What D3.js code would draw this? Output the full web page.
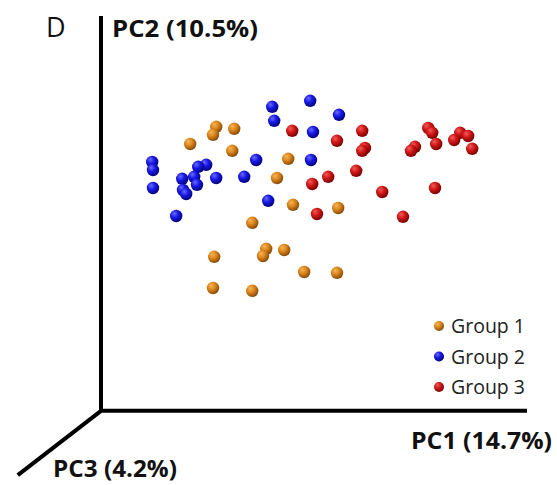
<!DOCTYPE html>
<html>
<head>
<meta charset="utf-8">
<script src="https://cdn.jsdelivr.net/npm/d3@7"></script>
<style>
  html, body { margin: 0; padding: 0; background: #fff; }
  svg { display: block; }
</style>
</head>
<body>
<div id="chart"></div>
<script>
/* scores (PC1, PC2), arbitrary units */
var groups = ["Group 1", "Group 2", "Group 3"];

var group1 = [
  [28.8, 70.8], [28.0, 68.8], [33.3, 70.3], [22.3, 66.5], [32.8, 64.8],
  [46.8, 62.8], [44.0, 58.0], [48.0, 51.3], [59.3, 50.5], [37.8, 46.8],
  [28.3, 38.3], [41.3, 40.3], [40.5, 38.5], [45.8, 40.0], [50.8, 34.5],
  [59.0, 34.3], [28.0, 30.5], [37.8, 29.8]
];

var group2 = [
  [42.8, 75.8], [52.3, 77.3], [59.5, 73.8], [43.3, 72.3], [53.0, 69.5],
  [12.8, 62.0], [13.0, 60.0], [26.3, 61.3], [24.3, 60.8], [38.8, 62.5],
  [52.5, 62.5], [23.3, 58.3], [20.3, 57.8], [24.0, 56.3], [28.8, 58.0],
  [35.8, 58.3], [13.0, 55.5], [20.5, 55.0], [21.3, 54.0], [41.8, 52.3],
  [18.8, 48.5]
];

var group3 = [
  [47.8, 69.8], [59.0, 67.3], [52.8, 56.5], [56.8, 58.3], [54.0, 49.0],
  [65.3, 69.8], [66.0, 65.5], [65.3, 64.8], [63.8, 59.8], [70.3, 54.5],
  [75.5, 48.3], [81.8, 70.5], [82.8, 69.3], [83.8, 66.5], [78.5, 65.8],
  [77.5, 64.8], [89.8, 69.3], [91.8, 68.5], [88.3, 67.5], [92.8, 65.3],
  [83.5, 55.5]
];

var axisLabels = ["PC1 (14.7%)", "PC2 (10.5%)", "PC3 (4.2%)"];
var panelLetter = "D";

var width = 557, height = 485;

var svg = d3.select("#chart").append("svg")
  .attr("width", width)
  .attr("height", height)
  .style("font-family", "'Open Sans', 'Noto Sans', sans-serif");

var x = d3.scaleLinear().domain([0, 100]).range([101, 501]);
var y = d3.scaleLinear().domain([0, 100]).range([410, 10]);

/* shaded ball gradients */
var palette = [
  { id: "ball1", light: "#f6b458", base: "#dc861c", dark: "#7e4406" },
  { id: "ball2", light: "#6a6aff", base: "#1818e6", dark: "#000070" },
  { id: "ball3", light: "#f45a5a", base: "#d01818", dark: "#700000" }
];

var defs = svg.append("defs");
palette.forEach(function (p) {
  var g = defs.append("radialGradient")
    .attr("id", p.id)
    .attr("cx", "38%").attr("cy", "35%").attr("r", "70%")
    .attr("fx", "35%").attr("fy", "30%");
  g.append("stop").attr("offset", "0%").attr("stop-color", p.light);
  g.append("stop").attr("offset", "45%").attr("stop-color", p.base);
  g.append("stop").attr("offset", "100%").attr("stop-color", p.dark);
});

/* pseudo 3D axes */
var axes = svg.append("g")
  .attr("stroke", "#000")
  .attr("stroke-width", 4)
  .attr("stroke-linecap", "butt");

axes.append("line")
  .attr("x1", x(0)).attr("y1", y(0) + 2)
  .attr("x2", x(0)).attr("y2", y(98.5));
axes.append("line")
  .attr("x1", x(0) - 2).attr("y1", y(-0.2))
  .attr("x2", x(106.5)).attr("y2", y(-0.2));
axes.append("line")
  .attr("x1", x(0)).attr("y1", y(-0.2))
  .attr("x2", x(-20.8)).attr("y2", y(-16.3));

/* labels */
svg.append("text")
  .attr("x", 46).attr("y", 37)
  .attr("font-size", 27)
  .attr("fill", "#111")
  .text(panelLetter);

function axisLabel(txt, px, py, len) {
  svg.append("text")
    .attr("x", px).attr("y", py)
    .attr("font-size", 23).attr("font-weight", "bold")
    .attr("fill", "#111")
    .attr("textLength", len)
    .attr("lengthAdjust", "spacingAndGlyphs")
    .text(txt);
}
axisLabel(axisLabels[1], 112, 37, 146);
axisLabel(axisLabels[0], 411, 449, 141);
axisLabel(axisLabels[2], 53, 477, 124);

/* points */
var series = [group1, group2, group3];
series.forEach(function (pts, i) {
  svg.append("g")
    .selectAll("circle")
    .data(pts)
    .enter()
    .append("circle")
    .attr("cx", function (d) { return x(d[0]); })
    .attr("cy", function (d) { return y(d[1]); })
    .attr("r", 6.2)
    .attr("fill", "url(#" + palette[i].id + ")");
});

/* legend */
var legend = svg.append("g")
  .selectAll("g")
  .data(groups)
  .enter()
  .append("g")
  .attr("transform", function (d, i) {
    return "translate(439," + (326 + i * 30.5) + ")";
  });

legend.append("circle")
  .attr("r", 5)
  .attr("fill", function (d, i) { return "url(#" + palette[i].id + ")"; });

legend.append("text")
  .attr("x", 12)
  .attr("y", 7)
  .attr("font-size", 19.5)
  .attr("fill", "#222")
  .text(function (d) { return d; });
</script>
</body>
</html>
